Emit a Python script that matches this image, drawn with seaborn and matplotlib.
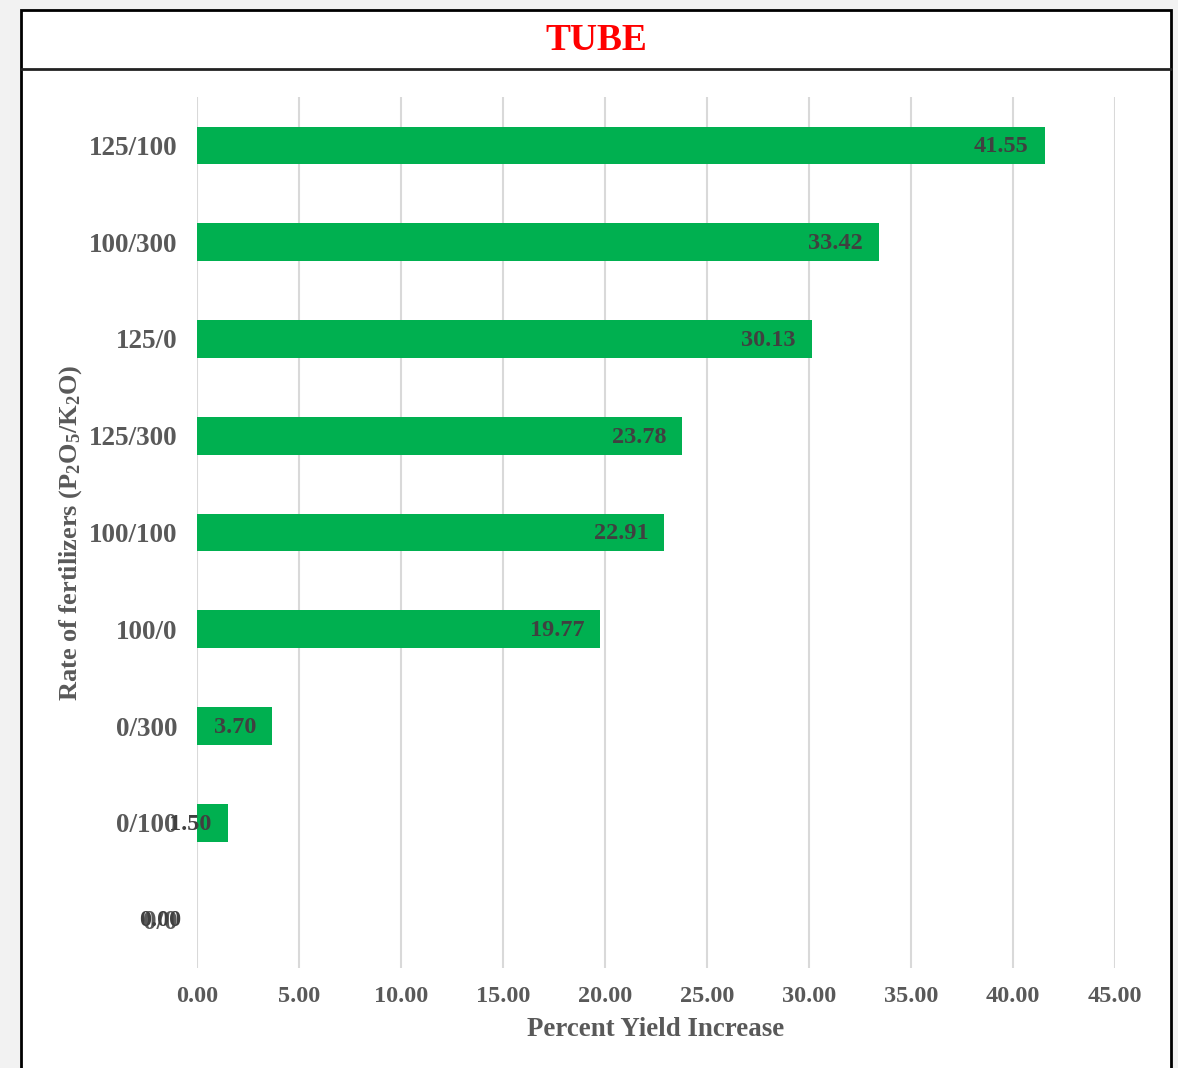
import matplotlib
matplotlib.use("Agg")
import matplotlib.pyplot as plt
from matplotlib.patches import Rectangle
from matplotlib.lines import Line2D
import seaborn as sns
import pandas as pd

# Fertilizer treatments (P2O5/K2O) and their percent yield increase
rates = ["125/100", "100/300", "125/0", "125/300", "100/100",
         "100/0", "0/300", "0/100", "0/0"]
yield_increase = [41.55, 33.42, 30.13, 23.78, 22.91, 19.77, 3.70, 1.50, 0.00]
x_ticks = [0, 5, 10, 15, 20, 25, 30, 35, 40, 45]

df = pd.DataFrame({"rate": rates, "increase": yield_increase})

sns.set_theme(style="white")
plt.rcParams["font.family"] = ["Liberation Serif", "DejaVu Serif"]
plt.rcParams["font.weight"] = "bold"
plt.rcParams["mathtext.fontset"] = "custom"
plt.rcParams["mathtext.rm"] = "Liberation Serif:bold"
plt.rcParams["mathtext.it"] = "Liberation Serif:bold"
plt.rcParams["mathtext.bf"] = "Liberation Serif:bold"

W, H = 1178, 1068
fig = plt.figure(figsize=(W / 100, H / 100), dpi=100, facecolor="#F2F2F2")

# White chart panel with black frame and a title band
fig.patches.append(Rectangle((21 / W, -0.05), (1171 - 21) / W, 1 - 10 / H + 0.05,
                             transform=fig.transFigure, facecolor="white",
                             edgecolor="black", linewidth=2, zorder=-10))
fig.lines.append(Line2D([21 / W, 1171 / W], [1 - 69 / H, 1 - 69 / H],
                        transform=fig.transFigure, color="#222222", linewidth=2,
                        zorder=-5))
fig.text(596 / W, 1 - 40 / H, "TUBE", color="#FF0000",
         fontsize=27, fontweight="bold", ha="center", va="center")

left, right, top, bottom = 197, 1115, 97, 968
ax = fig.add_axes([left / W, 1 - bottom / H, (right - left) / W, (bottom - top) / H])
ax.set_facecolor("none")

sns.barplot(data=df, x="increase", y="rate", orient="h", color="#00B050",
            saturation=1, width=0.39, linewidth=0, ax=ax, zorder=3)

ax.set_xlim(0, 45)
ax.set_ylim(len(rates) - 0.5, -0.5)
ax.set_xticks(x_ticks)
ax.set_xticklabels([f"{v:.2f}" for v in x_ticks])
ax.grid(axis="x", color="#D9D9D9", linewidth=1.5, zorder=0)
ax.grid(axis="y", visible=False)
ax.set_axisbelow(True)
for s in ax.spines.values():
    s.set_visible(False)

ax.tick_params(axis="y", length=0, pad=14, labelsize=19.5, labelcolor="#595959")
ax.tick_params(axis="x", length=0, pad=13, labelsize=17.5, labelcolor="#595959")
for lbl in ax.get_yticklabels() + ax.get_xticklabels():
    lbl.set_fontweight("bold")

# Value labels at the inner end of each bar
for i, v in enumerate(yield_increase):
    ax.annotate(f"{v:.2f}", xy=(v, i), xytext=(-11.5, -1), textcoords="offset points",
                ha="right", va="center", fontsize=17.5, fontweight="bold",
                color="#404040", zorder=5)

ax.set_xlabel("Percent Yield Increase", fontsize=19.4, fontweight="bold",
              color="#595959")
ax.set_ylabel(r"Rate of fertilizers (P$_2$O$_5$/K$_2$O)", fontsize=19,
              fontweight="bold", color="#595959")
ax.yaxis.set_label_coords((84 - left) / (right - left), (968 - 533) / (bottom - top))
ax.xaxis.set_label_coords((656 - left) / (right - left), -(1017 - bottom) / (bottom - top))

fig.savefig("out.png", dpi=100, facecolor=fig.get_facecolor())
